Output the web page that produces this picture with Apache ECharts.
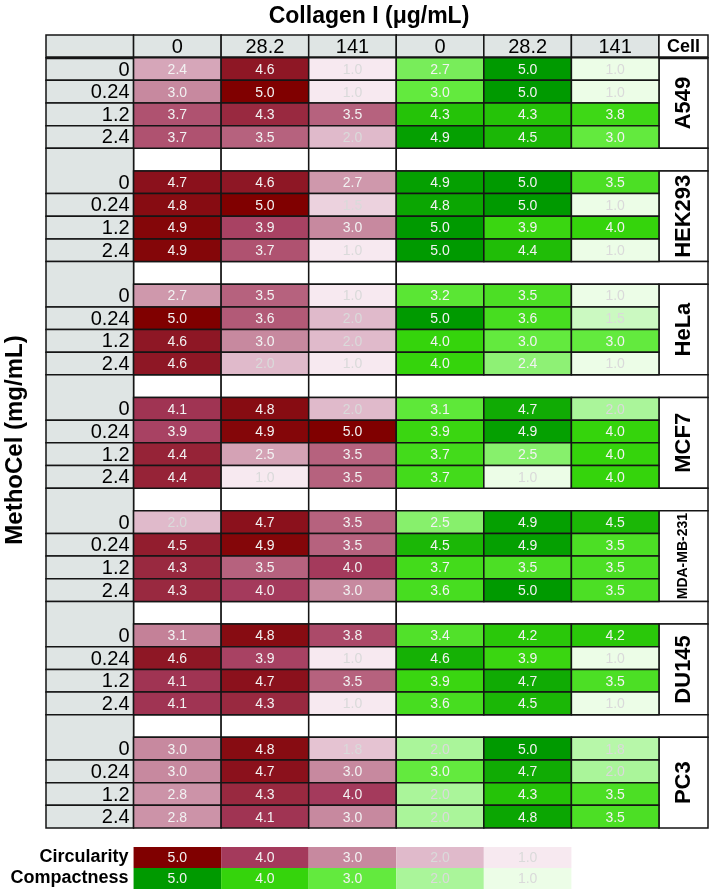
<!DOCTYPE html>
<html><head><meta charset="utf-8">
<script src="https://cdn.jsdelivr.net/npm/echarts@6/dist/echarts.min.js"></script>
<style>html,body{margin:0;padding:0;background:#fff}#c{width:709px;height:891px}</style>
</head><body><div id="c"></div><script>
// ---------- data ----------
const collagenLabels = ['0', '28.2', '141', '0', '28.2', '141'];
const methocelLabels = ['0', '0.24', '1.2', '2.4'];
const cellLines = ['A549', 'HEK293', 'HeLa', 'MCF7', 'MDA-MB-231', 'DU145', 'PC3'];
// each row: circularity at collagen 0, 28.2, 141 | compactness at collagen 0, 28.2, 141
const A549 = [
  [2.4, 4.6, 1.0, 2.7, 5.0, 1.0],
  [3.0, 5.0, 1.0, 3.0, 5.0, 1.0],
  [3.7, 4.3, 3.5, 4.3, 4.3, 3.8],
  [3.7, 3.5, 2.0, 4.9, 4.5, 3.0]
];
const HEK293 = [
  [4.7, 4.6, 2.7, 4.9, 5.0, 3.5],
  [4.8, 5.0, 1.5, 4.8, 5.0, 1.0],
  [4.9, 3.9, 3.0, 5.0, 3.9, 4.0],
  [4.9, 3.7, 1.0, 5.0, 4.4, 1.0]
];
const HeLa = [
  [2.7, 3.5, 1.0, 3.2, 3.5, 1.0],
  [5.0, 3.6, 2.0, 5.0, 3.6, 1.5],
  [4.6, 3.0, 2.0, 4.0, 3.0, 3.0],
  [4.6, 2.0, 1.0, 4.0, 2.4, 1.0]
];
const MCF7 = [
  [4.1, 4.8, 2.0, 3.1, 4.7, 2.0],
  [3.9, 4.9, 5.0, 3.9, 4.9, 4.0],
  [4.4, 2.5, 3.5, 3.7, 2.5, 4.0],
  [4.4, 1.0, 3.5, 3.7, 1.0, 4.0]
];
const MDA_MB_231 = [
  [2.0, 4.7, 3.5, 2.5, 4.9, 4.5],
  [4.5, 4.9, 3.5, 4.5, 4.9, 3.5],
  [4.3, 3.5, 4.0, 3.7, 3.5, 3.5],
  [4.3, 4.0, 3.0, 3.6, 5.0, 3.5]
];
const DU145 = [
  [3.1, 4.8, 3.8, 3.4, 4.2, 4.2],
  [4.6, 3.9, 1.0, 4.6, 3.9, 1.0],
  [4.1, 4.7, 3.5, 3.9, 4.7, 3.5],
  [4.1, 4.3, 1.0, 3.6, 4.5, 1.0]
];
const PC3 = [
  [3.0, 4.8, 1.8, 2.0, 5.0, 1.8],
  [3.0, 4.7, 3.0, 3.0, 4.7, 2.0],
  [2.8, 4.3, 4.0, 2.0, 4.3, 3.5],
  [2.8, 4.1, 3.0, 2.0, 4.8, 3.5]
];
const legendValues = [5.0, 4.0, 3.0, 2.0, 1.0];
const legendNames = ['Circularity', 'Compactness'];
const titleText = 'Collagen I (\u03bcg/mL)';
const yTitleText = 'MethoCel (mg/mL)';

// ---------- styling ----------
const circColors = ['#f7e9f0', '#e0bacb', '#c7899f', '#a43a5c', '#800000'];
const compColors = ['#ecfde7', '#aaf59a', '#63ea3e', '#35d40c', '#009a00'];
const NARROW = '"Liberation Sans Narrow","Liberation Sans",Arial,sans-serif';
const SANS = '"Liberation Sans",Arial,sans-serif';
const GRAY = '#dfe5e4';
const EDGE = '#151515';
const END = 6.56;

const tables = [A549, HEK293, HeLa, MCF7, MDA_MB_231, DU145, PC3];
const rowOf = (g, k) => 1 + g * 5 + k;
const NROWS = 1 + cellLines.length * 5 - 1;

const circData = [], compData = [];
tables.forEach((t, g) => t.forEach((row, k) => row.forEach((v, j) => {
  (j < 3 ? circData : compData).push([j, rowOf(g, k), v]);
})));
const legCirc = legendValues.map((v, i) => [i, 0, v]);
const legComp = legendValues.map((v, i) => [i, 1, v]);

// frame (headers, labels, gaps)
const frame = [];
frame.push({x0: -1, x1: 0, y0: 0, y1: 1, fill: GRAY});
collagenLabels.forEach((l, i) => frame.push({x0: i, x1: i + 1, y0: 0, y1: 1, fill: GRAY, text: l, font: '20px ' + NARROW}));
frame.push({x0: 6, x1: END, y0: 0, y1: 1, fill: '#fff', text: 'Cell', font: 'bold 18px ' + SANS});
cellLines.forEach((name, g) => {
  if (g > 0) {
    const gy = g * 5;
    for (let i = 0; i < 3; i++) frame.push({x0: i, x1: i + 1, y0: gy, y1: gy + 1, fill: '#fff'});
    frame.push({x0: 3, x1: END, y0: gy, y1: gy + 1, fill: '#fff'});
  }
  methocelLabels.forEach((l, k) => {
    const r = rowOf(g, k);
    const top = (k === 0 && g > 0) ? r - 1 : r;
    frame.push({x0: -1, x1: 0, y0: top, y1: r + 1, fill: GRAY, text: l, align: 'right', ty: r + 0.5, font: '20px ' + NARROW});
  });
  frame.push({x0: 6, x1: END, y0: rowOf(g, 0), y1: rowOf(g, 3) + 1, fill: '#fff', text: name, rotate: true,
    font: (name.length > 8 ? 'bold 14px ' : 'bold 22px ') + SANS});
});
frame.push({line: true, x0: -1, x1: END, y0: 1});

function frameRender(params, api) {
  const d = frame[params.dataIndex];
  if (d.line) {
    const a = api.coord([d.x0, d.y0]), b = api.coord([d.x1, d.y0]);
    return {type: 'line', shape: {x1: a[0], y1: a[1], x2: b[0], y2: b[1]}, style: {stroke: EDGE, lineWidth: 3}};
  }
  const p0 = api.coord([d.x0, d.y0]), p1 = api.coord([d.x1, d.y1]);
  const children = [{type: 'rect', shape: {x: p0[0], y: p0[1], width: p1[0] - p0[0], height: p1[1] - p0[1]},
    style: {fill: d.fill, stroke: EDGE, lineWidth: 1.5}}];
  if (d.text) {
    if (d.rotate) {
      children.push({type: 'text', x: (p0[0] + p1[0]) / 2, y: (p0[1] + p1[1]) / 2, rotation: Math.PI / 2,
        style: {text: d.text, x: 0, y: 0, align: 'center', verticalAlign: 'middle', textAlign: 'center', textVerticalAlign: 'middle', font: d.font, fill: '#000'}});
    } else if (d.align === 'right') {
      const cy = api.coord([0, d.ty])[1];
      children.push({type: 'text', style: {text: d.text, x: p1[0] - 4, y: cy + 1, align: 'right', verticalAlign: 'middle', textAlign: 'right', textVerticalAlign: 'middle', font: d.font, fill: '#000'}});
    } else {
      children.push({type: 'text', style: {text: d.text, x: (p0[0] + p1[0]) / 2, y: (p0[1] + p1[1]) / 2 + 1, align: 'center', verticalAlign: 'middle', textAlign: 'center', textVerticalAlign: 'middle', font: d.font, fill: '#000'}});
    }
  }
  return {type: 'group', children};
}

function makeCellRender(border) {
  return function (params, api) {
    const x = api.value(0), y = api.value(1), v = api.value(2);
    const p0 = api.coord([x, y]), p1 = api.coord([x + 1, y + 1]);
    const w = p1[0] - p0[0], h = p1[1] - p0[1];
    return {type: 'group', children: [
      {type: 'rect', shape: {x: p0[0], y: p0[1], width: w, height: h},
        style: {fill: api.visual('color'), stroke: border ? EDGE : null, lineWidth: border ? 1.5 : 0}},
      {type: 'text', style: {text: v.toFixed(1), x: p0[0] + w / 2, y: p0[1] + h / 2 + 1, align: 'center', verticalAlign: 'middle',
        textAlign: 'center', textVerticalAlign: 'middle', font: '14px ' + NARROW, fill: v < 2.2 ? '#dadada' : '#f2f2f2'}}
    ]};
  };
}

function legendLabelRender(params, api) {
  const i = params.dataIndex;
  const p = api.coord([0, i + 0.5]);
  return {type: 'text', style: {text: legendNames[i], x: p[0] - 5, y: p[1], align: 'right', verticalAlign: 'middle',
    textAlign: 'right', textVerticalAlign: 'middle', font: 'bold 18px ' + SANS, fill: '#000'}};
}

const chart = echarts.init(document.getElementById('c'), null, {renderer: 'canvas'});
chart.setOption({
  animation: false,
  backgroundColor: '#fff',
  grid: [
    {left: 46, top: 35, width: 662, height: 793},
    {left: 46, top: 847, width: 662, height: 42}
  ],
  xAxis: [
    {type: 'value', gridIndex: 0, min: -1, max: END, show: false},
    {type: 'value', gridIndex: 1, min: -1, max: END, show: false}
  ],
  yAxis: [
    {type: 'value', gridIndex: 0, min: 0, max: NROWS, inverse: true, show: false},
    {type: 'value', gridIndex: 1, min: 0, max: 2, inverse: true, show: false}
  ],
  visualMap: [
    {type: 'continuous', show: false, min: 1, max: 5, dimension: 2, seriesIndex: [1, 3], inRange: {color: circColors}},
    {type: 'continuous', show: false, min: 1, max: 5, dimension: 2, seriesIndex: [2, 4], inRange: {color: compColors}}
  ],
  graphic: [
    {type: 'text', x: 369, y: 17, style: {text: titleText, align: 'center', verticalAlign: 'middle', textAlign: 'center', textVerticalAlign: 'middle', font: 'bold 23px ' + SANS, fill: '#000'}},
    {type: 'text', x: 15, y: 440, rotation: Math.PI / 2, style: {text: yTitleText, x: 0, y: 0, align: 'center', verticalAlign: 'middle', textAlign: 'center', textVerticalAlign: 'middle', font: 'bold 24px ' + SANS, fill: '#000'}}
  ],
  series: [
    {type: 'custom', name: 'frame', xAxisIndex: 0, yAxisIndex: 0, data: frame.map((d, i) => [i]), renderItem: frameRender, silent: true},
    {type: 'custom', name: 'Circularity', xAxisIndex: 0, yAxisIndex: 0, data: circData, renderItem: makeCellRender(true), encode: {x: 0, y: 1}},
    {type: 'custom', name: 'Compactness', xAxisIndex: 0, yAxisIndex: 0, data: compData, renderItem: makeCellRender(true), encode: {x: 0, y: 1}},
    {type: 'custom', name: 'legCirc', xAxisIndex: 1, yAxisIndex: 1, data: legCirc, renderItem: makeCellRender(false), encode: {x: 0, y: 1}},
    {type: 'custom', name: 'legComp', xAxisIndex: 1, yAxisIndex: 1, data: legComp, renderItem: makeCellRender(false), encode: {x: 0, y: 1}},
    {type: 'custom', name: 'legLabels', xAxisIndex: 1, yAxisIndex: 1, data: legendNames.map((n, i) => [i]), renderItem: legendLabelRender, silent: true}
  ]
});
</script></body></html>
